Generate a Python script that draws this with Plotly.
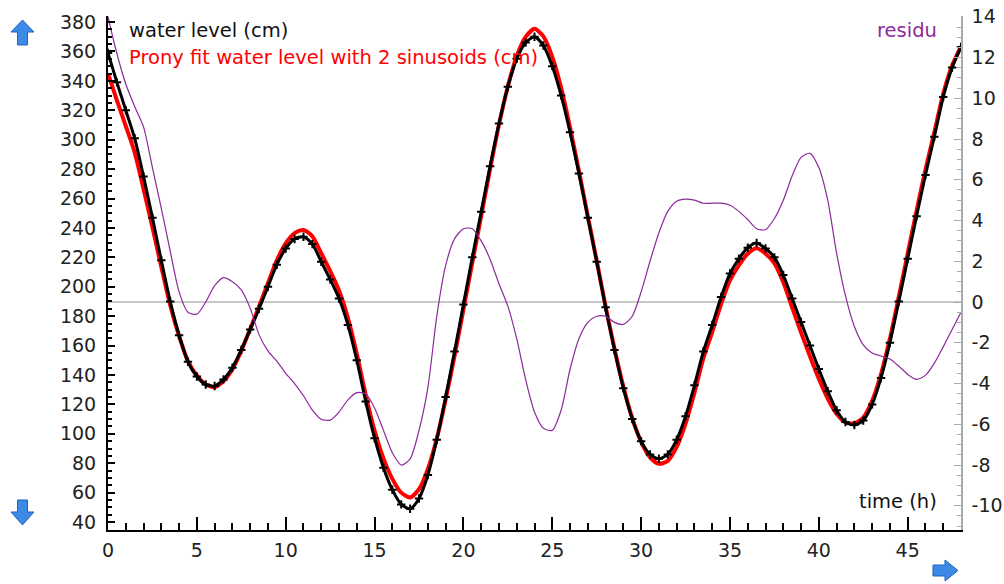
import plotly.graph_objects as go

# ---------------- data ----------------
time_h = [0, 0.5, 1, 1.5, 2, 2.5, 3, 3.5, 4, 4.5,
          5, 5.5, 6, 6.5, 7, 7.5, 8, 8.5, 9, 9.5,
          10, 10.5, 11, 11.5, 12, 12.5, 13, 13.5, 14, 14.5,
          15, 15.5, 16, 16.5, 17, 17.5, 18, 18.5, 19, 19.5,
          20, 20.5, 21, 21.5, 22, 22.5, 23, 23.5, 24, 24.5,
          25, 25.5, 26, 26.5, 27, 27.5, 28, 28.5, 29, 29.5,
          30, 30.5, 31, 31.5, 32, 32.5, 33, 33.5, 34, 34.5,
          35, 35.5, 36, 36.5, 37, 37.5, 38, 38.5, 39, 39.5,
          40, 40.5, 41, 41.5, 42, 42.5, 43, 43.5, 44, 44.5,
          45, 45.5, 46, 46.5, 47, 47.5, 48]

water_level_cm = [359, 339, 320, 301, 275, 247, 218, 190, 167, 149,
                  139, 133.5, 132.5, 137, 145, 157, 171, 185, 200, 215,
                  226, 232.5, 234, 229, 217, 205, 192, 174, 150, 122,
                  97, 77, 62, 52, 49, 56, 72, 96, 125, 156,
                  188, 220, 251, 282, 311, 336, 355, 366, 370, 364,
                  350, 330, 305, 277, 247, 217, 186, 157, 131, 110,
                  95, 86, 83, 86, 96, 112, 133, 156, 174, 193,
                  209, 219, 226.5, 229.7, 226, 220, 208, 192, 176, 160,
                  144, 129, 116, 108, 106, 109, 120, 138, 162, 190,
                  219, 248, 276, 302, 329, 349, 363]

prony_fit_cm = [345, 326.8, 309.3, 291.4, 266.4, 240.4, 213.4, 187.5, 166.5, 149.5,
                139.6, 133.5, 131.7, 135.8, 144, 156.4, 171.3, 186.6, 202.4, 217.9,
                229.5, 236.5, 238.6, 234.3, 222.8, 210.8, 197.4, 178.8, 154.5, 126.5,
                102.2, 83.3, 69.4, 60, 56.7, 62.3, 76.2, 96.7, 123.2, 152.9,
                184.4, 216.4, 248, 279.9, 310.1, 336.2, 356.8, 369.8, 375.4, 370.2,
                356.3, 335.3, 308.3, 278.8, 248, 217.7, 186.7, 158, 132.1, 110.7,
                94.5, 84, 79.6, 81.6, 91.1, 107, 128, 151.2, 169.2, 188.2,
                204.3, 214.6, 222.5, 226.1, 222.5, 215.9, 203, 185.8, 168.9, 152.7,
                137.4, 124, 113.6, 107.7, 107.2, 111.1, 122.5, 140.7, 164.8, 193.2,
                222.6, 251.8, 279.6, 305, 331.2, 350.4, 363.5]

residu = [14.0, 12.2, 10.7, 9.6, 8.6, 6.6, 4.6, 2.5, 0.5, -0.5,
          -0.6, 0.0, 0.8, 1.2, 1.0, 0.6, -0.3, -1.6, -2.4, -2.9,
          -3.5, -4.0, -4.6, -5.3, -5.75, -5.8, -5.4, -4.8, -4.45, -4.5,
          -5.2, -6.3, -7.4, -8.0, -7.7, -6.3, -4.2, -0.7, 1.8, 3.1,
          3.6, 3.6, 3.0, 2.1, 0.9, -0.2, -1.8, -3.8, -5.4, -6.2,
          -6.3, -5.3, -3.3, -1.8, -1.0, -0.7, -0.7, -1.0, -1.1, -0.7,
          0.5, 2.0, 3.4, 4.45, 4.95, 5.05, 5.0, 4.85, 4.85, 4.85,
          4.75, 4.45, 4.05, 3.6, 3.55, 4.1, 5.0, 6.2, 7.1, 7.3,
          6.6, 5.0, 2.4, 0.3, -1.2, -2.1, -2.5, -2.65, -2.8, -3.15,
          -3.55, -3.8, -3.6, -3.0, -2.2, -1.35, -0.5]

x_ticks = [0, 5, 10, 15, 20, 25, 30, 35, 40, 45]
left_ticks = [40, 60, 80, 100, 120, 140, 160, 180, 200, 220, 240, 260, 280,
              300, 320, 340, 360, 380]
right_ticks = [-10, -8, -6, -4, -2, 0, 2, 4, 6, 8, 10, 12, 14]

# ---------------- figure ----------------
W, H = 1004, 584
ML, MR, MT, MB = 108, 43, 16, 54
FONT = "DejaVu Sans"
PURPLE = "#8C2A9C"

fig = go.Figure()

fig.add_trace(go.Scatter(
    x=time_h, y=residu, mode="lines", yaxis="y2",
    line=dict(color=PURPLE, width=1.2, shape="spline", smoothing=0.7),
    name="residu", hoverinfo="skip"))

fig.add_trace(go.Scatter(
    x=time_h, y=prony_fit_cm, mode="lines",
    line=dict(color="#FF0000", width=4, shape="spline", smoothing=0.7),
    name="Prony fit", hoverinfo="skip"))

fig.add_trace(go.Scatter(
    x=time_h, y=water_level_cm, mode="lines+markers",
    line=dict(color="#000000", width=3, shape="spline", smoothing=0.7),
    marker=dict(symbol="cross-thin", size=6, color="#000000",
                line=dict(color="#000000", width=2)),
    name="water level", hoverinfo="skip"))

tickfont = dict(family=FONT, size=19, color="#222222")

fig.update_layout(
    width=W, height=H,
    margin=dict(l=ML, r=MR, t=MT, b=MB, pad=0, autoexpand=False),
    paper_bgcolor="white", plot_bgcolor="white",
    showlegend=False,
    font=dict(family=FONT, size=19, color="#222222"),
    xaxis=dict(
        range=[0, 48], showgrid=False, zeroline=False, automargin=False,
        showline=True, linecolor="black", linewidth=2,
        tickmode="array", tickvals=x_ticks, ticktext=[str(v) for v in x_ticks],
        ticks="inside", ticklen=13, tickwidth=1.5, tickcolor="black",
        minor=dict(ticks="inside", dtick=1, tick0=0, ticklen=7,
                   tickwidth=1.5, tickcolor="black", showgrid=False),
        tickfont=tickfont, ticklabelstandoff=2,
    ),
    yaxis=dict(
        range=[34.6, 384.1], showgrid=False, zeroline=False, automargin=False,
        showline=True, linecolor="black", linewidth=2,
        tickmode="array", tickvals=left_ticks, ticktext=[str(v) for v in left_ticks],
        ticks="inside", ticklen=7, tickwidth=1.5, tickcolor="black",
        minor=dict(ticks="inside", dtick=5, tick0=0, ticklen=4,
                   tickwidth=1.5, tickcolor="black", showgrid=False),
        tickfont=tickfont, ticklabelstandoff=6,
    ),
    yaxis2=dict(
        range=[-11.19, 14.04], overlaying="y", side="right", automargin=False,
        showgrid=False, zeroline=True, zerolinecolor="#C8C8C8", zerolinewidth=2,
        showline=True, linecolor="#AAAAAA", linewidth=1.5,
        tickmode="array", tickvals=right_ticks, ticktext=[str(v) for v in right_ticks],
        ticks="inside", ticklen=7, tickwidth=1.2, tickcolor="#AAAAAA",
        minor=dict(ticks="inside", dtick=0.5, tick0=0, ticklen=4,
                   tickwidth=1.2, tickcolor="#AAAAAA", showgrid=False),
        tickfont=tickfont, ticklabelstandoff=5,
    ),
)

# text labels (legend-like captions)
PW, PH = W - ML - MR, H - MT - MB


def px(xp):
    return (xp - ML) / PW


def py(yp):
    return (H - MB - yp) / PH


fig.add_annotation(text="water level (cm)", xref="paper", yref="paper",
                   x=px(127), y=py(30), xanchor="left", yanchor="middle",
                   showarrow=False, font=dict(family=FONT, size=19.5, color="#111111"))
fig.add_annotation(text="Prony fit water level with 2 sinusoids (cm)",
                   xref="paper", yref="paper",
                   x=px(127), y=py(57.5), xanchor="left", yanchor="middle",
                   showarrow=False, font=dict(family=FONT, size=19.5, color="#FF0000"))
fig.add_annotation(text="residu", xref="paper", yref="paper",
                   x=px(939), y=py(30), xanchor="right", yanchor="middle",
                   showarrow=False, font=dict(family=FONT, size=19.5, color=PURPLE))
fig.add_annotation(text="time (h)", xref="paper", yref="paper",
                   x=px(939), y=py(501), xanchor="right", yanchor="middle",
                   showarrow=False, font=dict(family=FONT, size=19.5, color="#111111"))


# blue navigation arrows (decoration)
def path(points):
    s = "M " + " L ".join(f"{px(a):.5f},{py(b):.5f}" for a, b in points) + " Z"
    return s


arrow_style = dict(type="path", xref="paper", yref="paper",
                   fillcolor="#3D8AE6", line=dict(color="#1F63C2", width=1),
                   layer="above")
up_arrow = [(22.5, 20), (34, 32), (27.5, 32), (27.5, 45), (17.5, 45), (17.5, 32), (11, 32)]
down_arrow = [(17.5, 500), (27.5, 500), (27.5, 512), (34, 512), (22.5, 525), (11, 512), (17.5, 512)]
right_arrow = [(933, 565), (945, 565), (945, 560), (958, 570.5), (945, 581), (945, 576), (933, 576)]
for pts in (up_arrow, down_arrow, right_arrow):
    fig.add_shape(path=path(pts), **arrow_style)

fig.write_html("out.html")
